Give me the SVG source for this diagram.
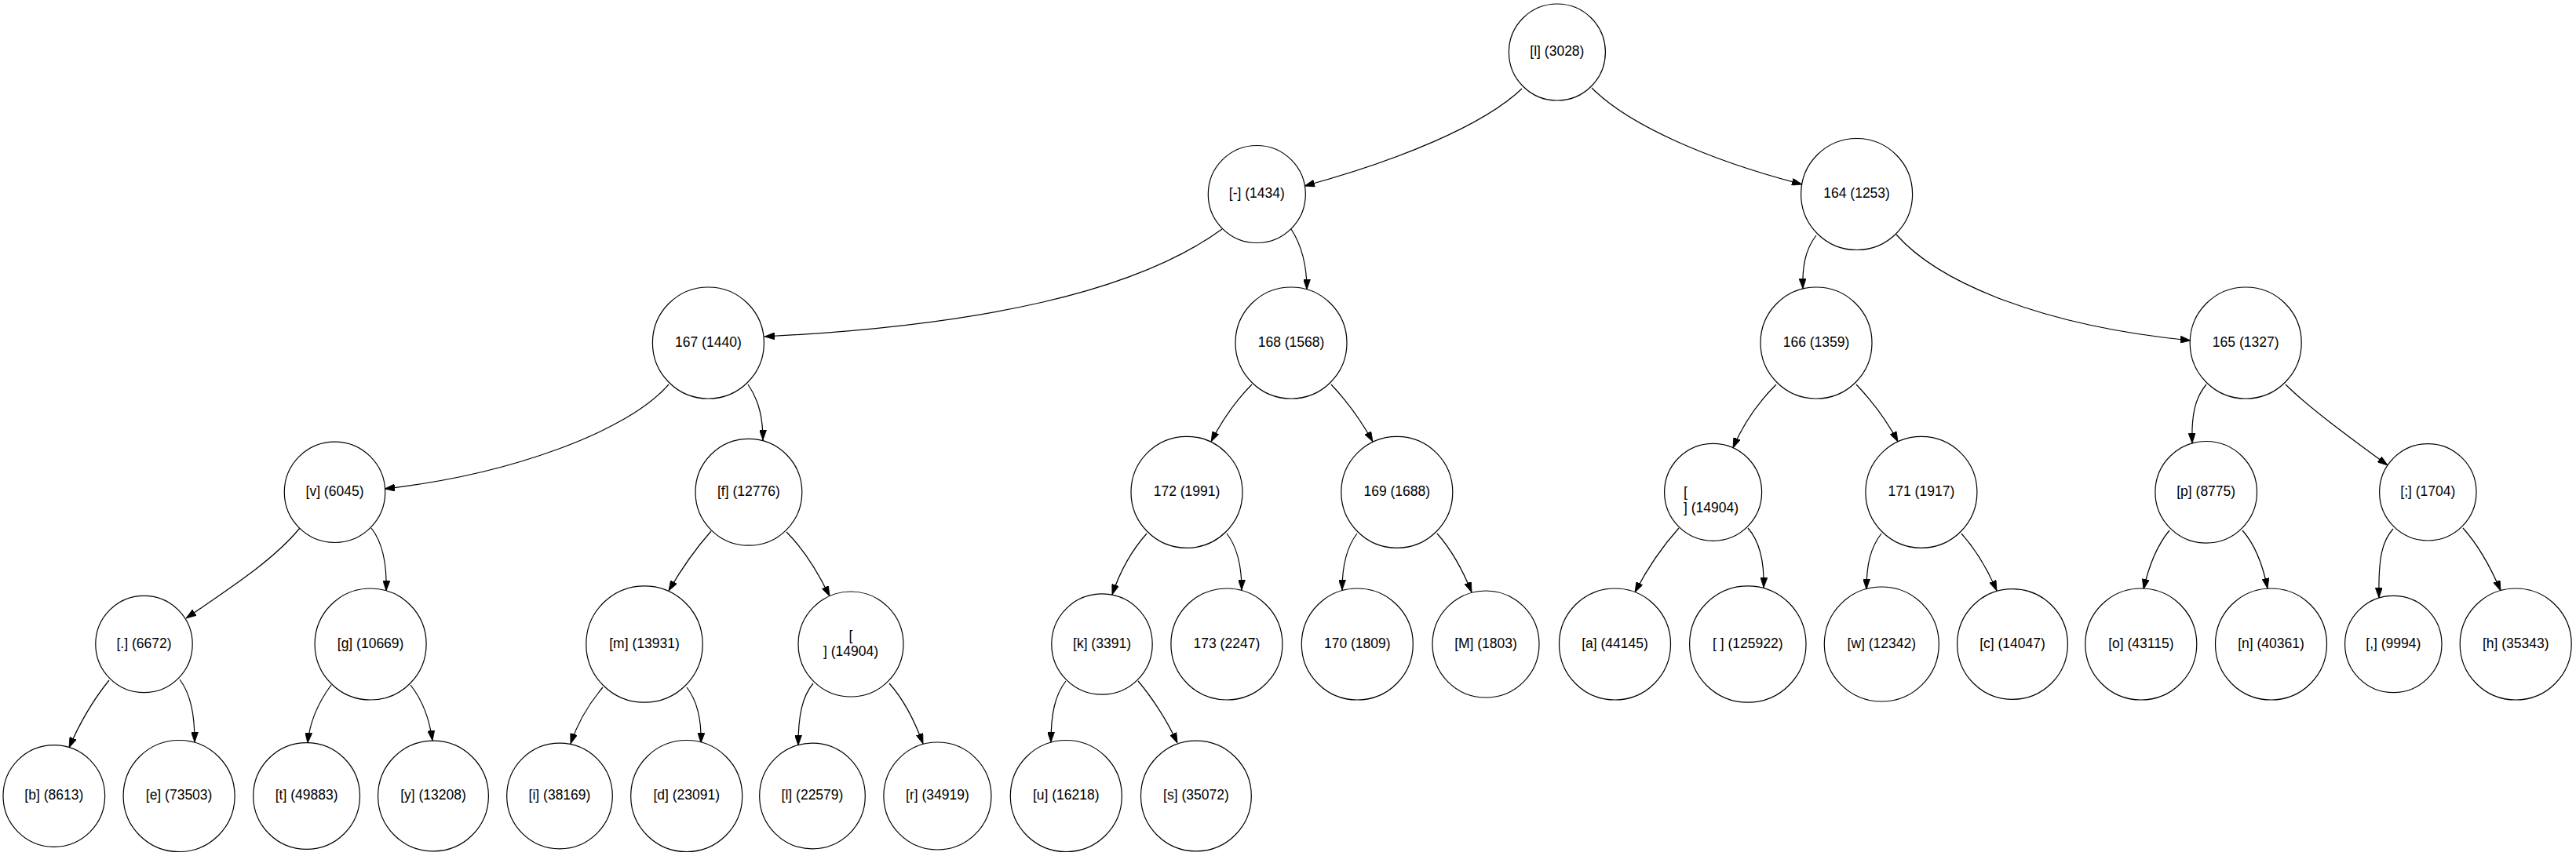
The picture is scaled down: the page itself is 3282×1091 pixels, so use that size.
<svg xmlns="http://www.w3.org/2000/svg" width="3282" height="1091" viewBox="0 0 3282 1091">
<style>
.node circle{fill:#fff;stroke:#000;stroke-width:1.2}
.node text{font-family:"Liberation Sans",Arial,sans-serif;font-size:17.5px;text-anchor:middle;fill:#000}
.node text.left{text-anchor:start}
#edges path{fill:none;stroke:#000;stroke-width:1.2;marker-end:url(#arrow)}
</style>
<defs>
<marker id="arrow" viewBox="0 0 13 9" refX="13" refY="4.5" markerWidth="13" markerHeight="9" markerUnits="userSpaceOnUse" orient="auto">
<path d="M0,0 L13,4.5 L0,9 z" fill="#000" stroke="#000" stroke-width="0.8"/>
</marker>
</defs>
<rect width="3282" height="1091" fill="#fff"/>
<g id="edges">
<path d="M1939,113 C1890,160 1780,205 1662,237"/>
<path d="M2028,112 C2075,160 2180,205 2296,235"/>
<path d="M1557,292 C1447,372 1250,415 974,429"/>
<path d="M1645,292 C1660,315 1665,340 1665,369"/>
<path d="M2314,300 C2300,318 2296,340 2297,368"/>
<path d="M2416,299 C2470,360 2600,415 2791,434"/>
<path d="M852,490 C800,550 650,605 490,623"/>
<path d="M953,490 C968,512 972,535 972,561"/>
<path d="M1595,490 C1580,505 1560,530 1543,563"/>
<path d="M1696,490 C1712,507 1732,532 1749,563"/>
<path d="M1461,680 C1445,698 1428,725 1417,758"/>
<path d="M1563,680 C1577,698 1582,722 1582,752"/>
<path d="M1729,680 C1715,698 1710,722 1710,752"/>
<path d="M1831,680 C1847,698 1863,725 1875,755"/>
<path d="M2263,490 C2245,508 2223,535 2208,571"/>
<path d="M2365,490 C2382,508 2402,532 2418,563"/>
<path d="M2811,490 C2796,508 2792,530 2793,565"/>
<path d="M2912,490 C2940,518 2990,555 3042,593"/>
<path d="M2764,676 C2750,693 2738,720 2731,751"/>
<path d="M2857,676 C2872,693 2883,720 2889,750"/>
<path d="M3049,674 C3035,690 3030,710 3031,762"/>
<path d="M3138,673 C3155,692 3172,720 3186,753"/>
<path d="M2139,673 C2122,692 2100,722 2083,755"/>
<path d="M2227,673 C2242,690 2248,715 2247,749"/>
<path d="M2397,680 C2383,698 2378,720 2378,751"/>
<path d="M2499,680 C2515,698 2532,725 2544,753"/>
<path d="M382,673 C350,712 300,745 237,788"/>
<path d="M473,673 C488,692 493,720 492,753"/>
<path d="M906,677 C890,695 870,722 852,753"/>
<path d="M1002,678 C1020,696 1040,725 1057,760"/>
<path d="M422,873 C408,892 395,915 392,947"/>
<path d="M523,873 C538,892 547,915 551,944"/>
<path d="M139,867 C122,888 103,918 88,953"/>
<path d="M229,866 C243,885 248,910 248,946"/>
<path d="M768,876 C752,895 737,918 727,948"/>
<path d="M875,876 C888,893 894,915 893,947"/>
<path d="M1036,871 C1022,888 1017,912 1017,950"/>
<path d="M1133,871 C1150,890 1165,918 1176,948"/>
<path d="M1358,868 C1344,886 1339,910 1339,946"/>
<path d="M1450,868 C1467,888 1487,918 1500,947"/>
</g>
<g id="n_l3028" class="node"><circle cx="1983.9" cy="66.5" r="61.5"/><text x="1983.9" y="71">[l] (3028)</text></g>
<g id="n_dash1434" class="node"><circle cx="1601.3" cy="247.5" r="62"/><text x="1601.3" y="252">[-] (1434)</text></g>
<g id="n_164" class="node"><circle cx="2365.6" cy="247.5" r="71"/><text x="2365.6" y="252">164 (1253)</text></g>
<g id="n_167" class="node"><circle cx="902.4" cy="437" r="71"/><text x="902.4" y="441.5">167 (1440)</text></g>
<g id="n_168" class="node"><circle cx="1645" cy="437" r="71"/><text x="1645" y="441.5">168 (1568)</text></g>
<g id="n_166" class="node"><circle cx="2314" cy="437" r="71"/><text x="2314" y="441.5">166 (1359)</text></g>
<g id="n_165" class="node"><circle cx="2861.2" cy="437" r="71"/><text x="2861.2" y="441.5">165 (1327)</text></g>
<g id="n_v" class="node"><circle cx="426.5" cy="627.3" r="64.2"/><text x="426.5" y="631.8">[v] (6045)</text></g>
<g id="n_f" class="node"><circle cx="953.9" cy="627.3" r="67.9"/><text x="953.9" y="631.8">[f] (12776)</text></g>
<g id="n_172" class="node"><circle cx="1512" cy="627.3" r="71"/><text x="1512" y="631.8">172 (1991)</text></g>
<g id="n_169" class="node"><circle cx="1779.8" cy="627.3" r="71"/><text x="1779.8" y="631.8">169 (1688)</text></g>
<g id="n_nl_r" class="node"><circle cx="2182.6" cy="627.3" r="62"/><text class="left" x="2145" y="632.5">[</text><text class="left" x="2145" y="652.8">] (14904)</text></g>
<g id="n_171" class="node"><circle cx="2447.9" cy="627.3" r="71"/><text x="2447.9" y="631.8">171 (1917)</text></g>
<g id="n_p" class="node"><circle cx="2810.7" cy="627.3" r="64.8"/><text x="2810.7" y="631.8">[p] (8775)</text></g>
<g id="n_semi" class="node"><circle cx="3093.3" cy="627.3" r="61.7"/><text x="3093.3" y="631.8">[;] (1704)</text></g>
<g id="n_dot" class="node"><circle cx="183.5" cy="821" r="61.7"/><text x="183.5" y="825.5">[.] (6672)</text></g>
<g id="n_g" class="node"><circle cx="472.1" cy="821" r="71"/><text x="472.1" y="825.5">[g] (10669)</text></g>
<g id="n_m" class="node"><circle cx="821" cy="821" r="74.2"/><text x="821" y="825.5">[m] (13931)</text></g>
<g id="n_nl_l" class="node"><circle cx="1084" cy="821" r="67"/><text x="1084" y="815.7">[</text><text x="1084" y="835.7">] (14904)</text></g>
<g id="n_k" class="node"><circle cx="1404" cy="821" r="64.2"/><text x="1404" y="825.5">[k] (3391)</text></g>
<g id="n_173" class="node"><circle cx="1562.9" cy="821" r="71"/><text x="1562.9" y="825.5">173 (2247)</text></g>
<g id="n_170" class="node"><circle cx="1729.3" cy="821" r="71"/><text x="1729.3" y="825.5">170 (1809)</text></g>
<g id="n_M" class="node"><circle cx="1893" cy="821" r="68"/><text x="1893" y="825.5">[M] (1803)</text></g>
<g id="n_a" class="node"><circle cx="2057.5" cy="821" r="71"/><text x="2057.5" y="825.5">[a] (44145)</text></g>
<g id="n_space" class="node"><circle cx="2226.8" cy="821" r="74.2"/><text x="2226.8" y="825.5">[ ] (125922)</text></g>
<g id="n_w" class="node"><circle cx="2397.3" cy="821" r="73"/><text x="2397.3" y="825.5">[w] (12342)</text></g>
<g id="n_c" class="node"><circle cx="2564" cy="821" r="70.4"/><text x="2564" y="825.5">[c] (14047)</text></g>
<g id="n_o" class="node"><circle cx="2727.8" cy="821" r="71"/><text x="2727.8" y="825.5">[o] (43115)</text></g>
<g id="n_n" class="node"><circle cx="2893.5" cy="821" r="71"/><text x="2893.5" y="825.5">[n] (40361)</text></g>
<g id="n_comma" class="node"><circle cx="3049.3" cy="821" r="61.7"/><text x="3049.3" y="825.5">[,] (9994)</text></g>
<g id="n_h" class="node"><circle cx="3205.2" cy="821" r="71"/><text x="3205.2" y="825.5">[h] (35343)</text></g>
<g id="n_b" class="node"><circle cx="68.8" cy="1014.5" r="64.8"/><text x="68.8" y="1019">[b] (8613)</text></g>
<g id="n_e" class="node"><circle cx="228.1" cy="1014.5" r="71"/><text x="228.1" y="1019">[e] (73503)</text></g>
<g id="n_t" class="node"><circle cx="390.6" cy="1014.5" r="67.9"/><text x="390.6" y="1019">[t] (49883)</text></g>
<g id="n_y" class="node"><circle cx="552" cy="1014.5" r="70.4"/><text x="552" y="1019">[y] (13208)</text></g>
<g id="n_i" class="node"><circle cx="713" cy="1014.5" r="67.3"/><text x="713" y="1019">[i] (38169)</text></g>
<g id="n_d" class="node"><circle cx="874.7" cy="1014.5" r="71"/><text x="874.7" y="1019">[d] (23091)</text></g>
<g id="n_l22579" class="node"><circle cx="1035" cy="1014.5" r="67.3"/><text x="1035" y="1019">[l] (22579)</text></g>
<g id="n_r" class="node"><circle cx="1194.4" cy="1014.5" r="68.5"/><text x="1194.4" y="1019">[r] (34919)</text></g>
<g id="n_u" class="node"><circle cx="1358.3" cy="1014.5" r="71"/><text x="1358.3" y="1019">[u] (16218)</text></g>
<g id="n_s" class="node"><circle cx="1523.9" cy="1014.5" r="70.4"/><text x="1523.9" y="1019">[s] (35072)</text></g>
</svg>
